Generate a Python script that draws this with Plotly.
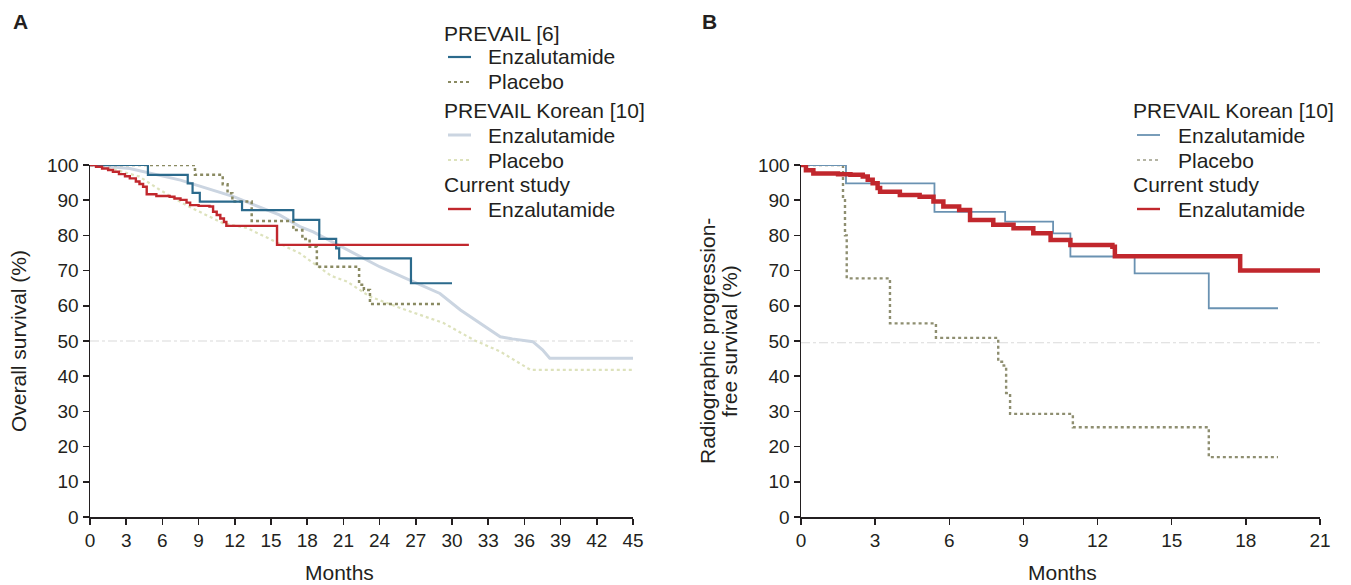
import plotly.graph_objects as go

# ---------------- Panel A : overall survival ----------------
months_ticks_a = list(range(0, 46, 3))
surv_ticks = list(range(0, 101, 10))

a_prevail_enz_x = [0, 4.8, 8.1, 8.5, 9.1, 12.6, 16.85, 19.0, 20.4, 20.65, 26.6, 30.0]
a_prevail_enz_y = [100, 97.2, 94.8, 92.1, 89.6, 87.2, 84.4, 79.0, 76.3, 73.5, 66.4, 66.4]

a_prevail_pla_x = [0, 8.7, 11.0, 11.4, 11.8, 13.4, 16.85, 17.6, 18.2, 18.8, 22.3, 22.7, 23.2, 29.1]
a_prevail_pla_y = [100, 97.2, 94.5, 92.0, 89.6, 84.1, 81.5, 79.0, 76.8, 71.1, 66.0, 64.5, 60.5, 60.5]

a_korean_enz_x = [0, 3.3, 7.5, 11.9, 15.7, 17.4, 18.5, 22.4, 24.0, 26.5, 29.0, 30.7, 34.0, 35.0, 36.7, 37.5, 38.1, 45]
a_korean_enz_y = [100, 99.0, 95.7, 91.0, 85.8, 82.5, 81.0, 73.9, 71.1, 67.3, 63.5, 58.8, 51.2, 50.6, 49.8, 47.5, 45.1, 45.1]

a_korean_pla_x = [0, 2.0, 4.1, 5.8, 8.0, 11.0, 13.0, 17.4, 20.0, 21.3, 23.2, 25.7, 29.3, 31.8, 34.0, 36.5, 45]
a_korean_pla_y = [100, 98.8, 96.7, 92.9, 88.5, 83.5, 82.1, 74.9, 68.5, 66.9, 62.6, 59.4, 55.1, 50.3, 47.0, 41.8, 41.8]

a_current_x = [0, 0.5, 1.0, 1.5, 1.9, 2.4, 2.9, 3.3, 3.8, 4.1, 4.4, 4.7, 5.5, 6.6, 7.0, 7.5,
               8.0, 8.3, 9.0, 9.9, 10.2, 10.5, 10.8, 11.1, 11.3, 15.5, 31.4]
a_current_y = [100, 99.5, 99.0, 98.6, 98.1, 97.4, 96.8, 96.2, 95.3, 94.6, 93.8, 91.7, 91.2, 91.0, 90.5, 90.1,
               89.3, 88.6, 88.4, 88.2, 86.7, 85.8, 84.8, 83.8, 82.7, 77.3, 77.3]

a_median_x = [0, 45]
a_median_y = [50, 50]

# ---------------- Panel B : radiographic PFS ----------------
months_ticks_b = list(range(0, 22, 3))

b_korean_enz_x = [0, 1.82, 5.4, 8.26, 10.2, 10.9, 13.5, 16.5, 19.3]
b_korean_enz_y = [100, 94.8, 86.7, 83.9, 80.6, 74.0, 69.2, 59.3, 59.3]

b_korean_pla_x = [0, 1.7, 1.78, 1.85, 3.6, 5.46, 7.98, 8.2, 8.3, 8.46, 11.0, 16.5, 19.3]
b_korean_pla_y = [100, 90.0, 80.0, 67.8, 55.0, 50.9, 44.1, 43.0, 35.2, 29.3, 25.5, 17.0, 17.0]

b_current_x = [0, 0.2, 0.5, 1.5, 2.0, 2.5, 2.7, 2.9, 3.1, 3.2, 4.0, 4.8, 5.36, 5.76, 6.4, 6.84,
               7.78, 8.6, 9.4, 10.1, 10.9, 12.6, 12.7, 17.77, 21.5]
b_current_y = [100, 98.5, 97.6, 97.4, 97.2, 96.7, 95.8, 94.8, 93.5, 92.4, 91.5, 91.0, 89.6, 88.2, 87.2, 84.4,
               83.0, 82.0, 80.6, 78.7, 77.3, 76.8, 74.1, 70.0, 70.0]

b_median_x = [0, 21]
b_median_y = [49.5, 49.5]

# ---------------- styling ----------------
W, H = 1351, 585
FONT = "Liberation Sans, Arial, sans-serif"
TXT = "#231f20"
C_PREV_ENZ = "#2b6a8c"
C_PREV_PLA = "#8a8a62"
C_KOR_ENZ_A = "#cbd5e1"
C_KOR_PLA_A = "#dde2bc"
C_CUR = "#c1272d"
C_KOR_ENZ_B = "#6a92b2"
C_KOR_PLA_B = "#8e8e70"
C_MED = "#dadada"


def px(x):
    return x / W


def py(y):
    return 1 - y / H


fig = go.Figure()


def add(x, y, color, width, dash="solid", shape="hv", xa="x", ya="y"):
    fig.add_trace(go.Scatter(x=x, y=y, mode="lines", xaxis=xa, yaxis=ya,
                             line=dict(color=color, width=width, dash=dash, shape=shape),
                             showlegend=False, hoverinfo="skip"))


# Panel A
add(a_median_x, a_median_y, C_MED, 1.2, "dashdot", "linear")
add(a_korean_pla_x, a_korean_pla_y, C_KOR_PLA_A, 2.2, "dot", "linear")
add(a_korean_enz_x, a_korean_enz_y, C_KOR_ENZ_A, 3.0, "solid", "linear")
add(a_prevail_pla_x, a_prevail_pla_y, C_PREV_PLA, 2.5, "dot")
add(a_prevail_enz_x, a_prevail_enz_y, C_PREV_ENZ, 2.2)
add(a_current_x, a_current_y, C_CUR, 2.4)

# Panel B
add(b_median_x, b_median_y, C_MED, 1.2, "dashdot", "linear", "x2", "y2")
add(b_korean_pla_x, b_korean_pla_y, C_KOR_PLA_B, 2.4, "dot", "hv", "x2", "y2")
add(b_korean_enz_x, b_korean_enz_y, C_KOR_ENZ_B, 1.8, "solid", "hv", "x2", "y2")
add(b_current_x, b_current_y, C_CUR, 4.5, "solid", "hv", "x2", "y2")

axis_common = dict(showline=True, linecolor=TXT, linewidth=1.5, ticks="outside", ticklen=6,
                   tickwidth=1.5, tickcolor=TXT, showgrid=False, zeroline=False, automargin=False,
                   tickfont=dict(family=FONT, size=19, color=TXT), fixedrange=True)

fig.update_layout(
    width=W, height=H, margin=dict(l=0, r=0, t=0, b=0, autoexpand=False),
    paper_bgcolor="white", plot_bgcolor="white", showlegend=False,
    xaxis=dict(domain=[px(90), px(633)], range=[0, 45], tickvals=months_ticks_a, anchor="y", **axis_common),
    yaxis=dict(domain=[py(517), py(165)], range=[0, 100], tickvals=surv_ticks, anchor="x", **axis_common),
    xaxis2=dict(domain=[px(801), px(1320)], range=[0, 21], tickvals=months_ticks_b, anchor="y2", **axis_common),
    yaxis2=dict(domain=[py(517), py(165)], range=[0, 100], tickvals=surv_ticks, anchor="x2", **axis_common),
)

ann = []


def text(s, xp, yp, size=21, xanchor="left", angle=0, bold=False):
    ann.append(dict(text=("<b>%s</b>" % s) if bold else s, x=px(xp), y=py(yp), xref="paper", yref="paper",
                    xanchor=xanchor, yanchor="middle", showarrow=False, textangle=angle,
                    font=dict(family=FONT, size=size, color=TXT)))


# panel letters
text("A", 11, 22, 21, bold=True)
text("B", 700, 22, 21, bold=True)
# axis titles
text("Months", 339, 572, 21, "center")
text("Months", 1062, 572, 21, "center")
text("Overall survival (%)", 18, 341, 21, "center", -90)
text("Radiographic progression-", 707, 341, 21, "center", -90)
text("free survival (%)", 729, 341, 21, "center", -90)

shapes = []


def sample(x0, x1, yp, color, width, dash):
    shapes.append(dict(type="line", xref="paper", yref="paper", x0=px(x0), x1=px(x1),
                       y0=py(yp), y1=py(yp), line=dict(color=color, width=width, dash=dash)))


# legend A
legend_a = [("PREVAIL [6]", None, 33), ("Enzalutamide", (C_PREV_ENZ, 2.2, "solid"), 57),
            ("Placebo", (C_PREV_PLA, 2.2, "dot"), 82),
            ("PREVAIL Korean [10]", None, 110), ("Enzalutamide", (C_KOR_ENZ_A, 3, "solid"), 135),
            ("Placebo", (C_KOR_PLA_A, 2.2, "dot"), 160),
            ("Current study", None, 184), ("Enzalutamide", (C_CUR, 2.4, "solid"), 209)]
for label, st, yp in legend_a:
    if st is None:
        text(label, 442, yp)
    else:
        sample(448, 471, yp, *st)
        text(label, 486, yp)

# legend B
legend_b = [("PREVAIL Korean [10]", None, 110), ("Enzalutamide", (C_KOR_ENZ_B, 1.8, "solid"), 135),
            ("Placebo", ("#b4b4a4", 2.0, "dot"), 160),
            ("Current study", None, 184), ("Enzalutamide", (C_CUR, 2.4, "solid"), 209)]
for label, st, yp in legend_b:
    if st is None:
        text(label, 1131, yp)
    else:
        sample(1137, 1160, yp, *st)
        text(label, 1176, yp)

fig.update_layout(annotations=ann, shapes=shapes)
# remove the default 8px page margin so the figure fills the window exactly
fig.write_html("out.html", config={"displayModeBar": False, "staticPlot": True},
               post_script="document.body.style.margin='0px';document.body.style.overflow='hidden';")
